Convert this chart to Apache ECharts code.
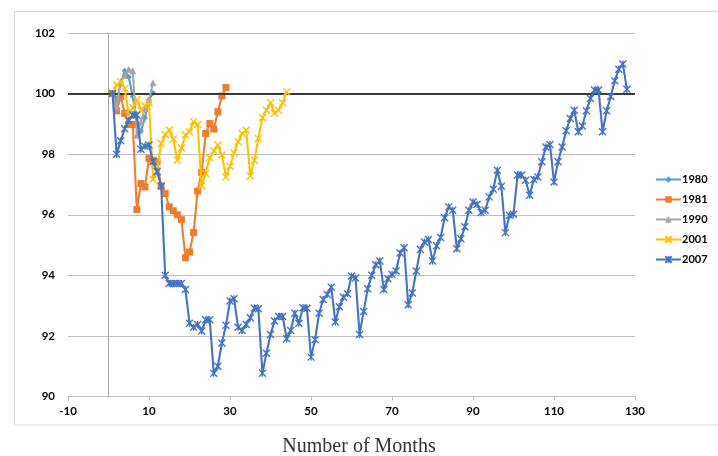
<!DOCTYPE html>
<html>
<head>
<meta charset="utf-8">
<script src="https://cdn.jsdelivr.net/npm/echarts@6.0.0/dist/echarts.min.js"></script>
<style>
html,body{margin:0;padding:0;background:#fff;}
#chart{width:718px;height:456px;}
</style>
</head>
<body>
<div id="chart"></div>
<script>
// Values indexed by month, starting at month 1
const seriesNames = ['1980', '1981', '1990', '2001', '2007'];
const v1980 = [100, 99.8, 100.3, 100.75, 100.55, 99.9, 99.0, 98.75, 99.2, 99.8, 100.02];
const v1981 = [100, 99.43, 99.9, 99.35, 98.98, 98.98, 96.17, 97.03, 96.92, 97.86, 97.8, 97.75, 96.95, 96.7,
  96.26, 96.13, 96.0, 95.84, 94.58, 94.77, 95.41, 96.78, 97.4, 98.68, 99.01, 98.83, 99.4, 99.92, 100.2];
const v1990 = [100, 99.56, 100.39, 100.6, 100.8, 100.75, 98.63, 99.07, 99.51, 99.79, 100.36];
const v2001 = [100, 100.28, 100.39, 100.17, 99.3, 99.55, 99.8, 99.45, 99.6, 99.7, 97.17, 97.45, 98.35, 98.65,
  98.8, 98.5, 97.8, 98.2, 98.63, 98.74, 99.07, 98.98, 96.95, 97.36, 97.89, 98.11, 98.3, 97.97, 97.25, 97.6,
  98.04, 98.41, 98.68, 98.79, 97.28, 97.8, 98.52, 99.2, 99.45, 99.7, 99.35, 99.45, 99.7, 100.05];
const v2007 = [100, 98.0, 98.44, 98.84, 99.12, 99.29, 99.29, 98.16, 98.26, 98.3, 97.75, 97.42, 96.95, 94.0,
  93.73, 93.73, 93.73, 93.73, 93.53, 92.42, 92.29, 92.38, 92.16, 92.53, 92.53, 90.77, 91.0, 91.77, 92.35, 93.15,
  93.23, 92.29, 92.18, 92.38, 92.6, 92.92, 92.9, 90.77, 91.43, 92.05, 92.49, 92.64, 92.64, 91.91, 92.18, 92.75,
  92.42, 92.93, 92.91, 91.3, 91.87, 92.75, 93.2, 93.37, 93.61, 92.46, 92.96, 93.28, 93.39, 93.98, 93.91, 92.05,
  92.81, 93.56, 94.0, 94.35, 94.47, 93.53, 93.89, 94.03, 94.14, 94.74, 94.91, 93.03, 93.42, 94.14, 94.85, 95.1,
  95.18, 94.47, 94.98, 95.25, 95.9, 96.26, 96.15, 94.88, 95.21, 95.6, 96.15, 96.42, 96.35, 96.07, 96.15, 96.59,
  96.84, 97.47, 96.94, 95.41, 95.98, 96.02, 97.31, 97.31, 97.14, 96.64, 97.16, 97.25, 97.75, 98.24, 98.32, 97.08,
  97.75, 98.24, 98.77, 99.18, 99.45, 98.74, 98.93, 99.43, 99.84, 100.12, 100.12, 98.74, 99.43, 99.9, 100.42,
  100.8, 100.98, 100.14];
const xTickLabels = ['-10', '10', '30', '50', '70', '90', '110', '130'];
const yTickLabels = ['90', '92', '94', '96', '98', '100', '102'];
const baseLevel = 100;
const startMonth = 1;

const colors = ['#5B9BD5', '#ED7D31', '#A5A5A5', '#FFC000', '#4472C4'];
const allValues = [v1980, v1981, v1990, v2001, v2007];
const symbols = [
  'diamond', 'rect', 'triangle',
  'path://M0,0L10,10M10,0L0,10',
  'path://M0,0L10,10M10,0L0,10M5,0L5,10'
];
const symbolSizes = [6, 7, 7, 7, 7];

function pairs(arr) { return arr.map((v, i) => [startMonth + i, v]); }

const labelFont = { fontFamily: 'Lato, "Liberation Sans", sans-serif', fontWeight: 'bold', fontSize: 11.5, color: '#000' };

const series = allValues.map((vals, k) => {
  const stroke = k >= 3;
  return {
    name: seriesNames[k],
    type: 'line',
    xAxisIndex: 0,
    data: pairs(vals),
    symbol: symbols[k],
    symbolSize: symbolSizes[k],
    showAllSymbol: true,
    lineStyle: { color: colors[k], width: 2.1 },
    itemStyle: stroke
      ? { color: 'rgba(0,0,0,0)', borderColor: colors[k], borderWidth: 1.4 }
      : { color: colors[k], borderColor: colors[k], borderWidth: 0 },
    emphasis: { disabled: true },
    animation: false,
    z: 3 + k
  };
});
// reference lines
series.push({
  name: 'ref', type: 'line', xAxisIndex: 0, data: [], silent: true,
  markLine: {
    silent: true, symbol: 'none', animation: false, label: { show: false },
    data: [
      { xAxis: 0, lineStyle: { color: '#a6a6a6', width: 1, type: 'solid' } },
      { yAxis: baseLevel, lineStyle: { color: '#3a3a3a', width: 2, type: 'solid' } }
    ]
  },
  z: 10
});

const chart = echarts.init(document.getElementById('chart'), null, { renderer: 'canvas' });
chart.setOption({
  animation: false,
  backgroundColor: '#fff',
  grid: { left: 68, top: 33, width: 567, height: 363.5, containLabel: false },
  xAxis: [
    { type: 'value', min: -10, max: 130, show: false },
    {
      type: 'value', min: 0, max: 140, interval: 20, position: 'bottom',
      axisLine: { show: true, lineStyle: { color: '#bfbfbf', width: 1 } },
      axisTick: { show: true, inside: false, length: 4, lineStyle: { color: '#bfbfbf' } },
      splitLine: { show: false },
      axisLabel: Object.assign({ margin: 9, formatter: (v) => xTickLabels[Math.round(v / 20)] }, labelFont)
    }
  ],
  yAxis: {
    type: 'value', min: 90, max: 102, interval: 2,
    axisLine: { show: false }, axisTick: { show: false },
    splitLine: { show: true, lineStyle: { color: '#bfbfbf', width: 1 } },
    axisLabel: Object.assign({ margin: 13, formatter: (v) => yTickLabels[Math.round((v - 90) / 2)] }, labelFont)
  },
  legend: {
    data: seriesNames,
    orient: 'vertical',
    left: 650, top: 169,
    itemWidth: 25, itemHeight: 8, itemGap: 9,
    textStyle: { fontFamily: 'Lato, "Liberation Sans", sans-serif', fontWeight: 'bold', fontSize: 11, color: '#000', padding: [0, 0, 0, -4] },
    selectedMode: false
  },
  graphic: [
    { type: 'rect', shape: { x: 14.5, y: 11.5, width: 720, height: 413.5 }, style: { fill: 'none', stroke: '#d9d9d9', lineWidth: 1 }, silent: true, z: -1 },
    { type: 'text', left: 'center', top: 437, style: { text: 'Number of Months', font: '20px "Liberation Serif", serif', fill: '#333' } }
  ],
  series: series
});
</script>
</body>
</html>
